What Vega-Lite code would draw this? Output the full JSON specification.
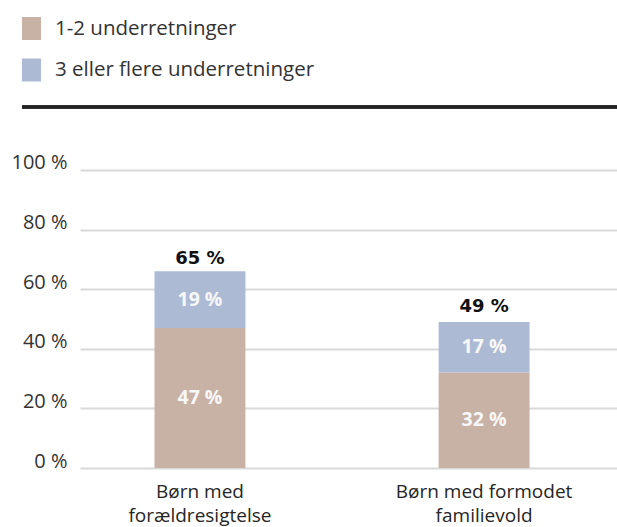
{
  "$schema": "https://vega.github.io/schema/vega-lite/v6.json",
  "autosize": {"type": "none"},
  "padding": {"left": 80, "top": 107, "right": 0, "bottom": 59},
  "width": 537,
  "height": 361,
  "background": "white",
  "config": {
    "view": {"stroke": null},
    "font": "Open Sans"
  },
  "data": {
    "values": [
      {"gruppe": "Børn med forældresigtelse", "type": "1-2 underretninger", "andel": 47, "total": 65, "ord": 1},
      {"gruppe": "Børn med forældresigtelse", "type": "3 eller flere underretninger", "andel": 19, "total": 65, "ord": 2},
      {"gruppe": "Børn med formodet familievold", "type": "1-2 underretninger", "andel": 32, "total": 49, "ord": 1},
      {"gruppe": "Børn med formodet familievold", "type": "3 eller flere underretninger", "andel": 17, "total": 49, "ord": 2}
    ]
  },
  "resolve": {"scale": {"x": "independent"}},
  "layer": [
    {
      "encoding": {
        "x": {
          "field": "gruppe", "type": "nominal", "sort": null,
          "scale": {"paddingInner": 0.68, "paddingOuter": 0.285, "align": 0.46},
          "axis": {
            "title": null, "domain": false, "ticks": false, "labelAngle": 0,
            "labelFontSize": 19, "labelColor": "#262626", "labelPadding": 14,
            "labelLineHeight": 24, "labelFont": "Open Sans", "labelLimit": 400,
            "labelExpr": "datum.label == 'Børn med forældresigtelse' ? ['Børn med', 'forældresigtelse'] : ['Børn med formodet', 'familievold']"
          }
        }
      },
      "layer": [
        {
          "mark": {"type": "bar"},
          "encoding": {
            "y": {
              "field": "andel", "type": "quantitative", "stack": "zero",
              "scale": {"domain": [0, 121.1], "nice": false},
              "axis": {
                "title": null, "values": [0, 20, 40, 60, 80, 100],
                "labelExpr": "datum.value + ' %'", "domain": false, "ticks": false,
                "labelFontSize": 20, "labelColor": "#333333", "labelPadding": 13,
                "labelOffset": -7, "labelFont": "Open Sans",
                "gridColor": "#d9d9d9", "gridWidth": 2
              }
            },
            "color": {
              "field": "type", "type": "nominal",
              "scale": {"domain": ["1-2 underretninger", "3 eller flere underretninger"], "range": ["#c8b2a6", "#adbad4"]},
              "legend": {
                "title": null, "orient": "none", "legendX": -60, "legendY": -90,
                "symbolType": "M-0.83,-1L0.83,-1L0.83,1L-0.83,1Z", "symbolSize": 529,
                "symbolStrokeWidth": 0, "symbolOpacity": 1,
                "labelFontSize": 20.5, "labelColor": "#333333", "labelFont": "Open Sans",
                "labelOffset": 12, "rowPadding": 18.5, "padding": 0, "labelLimit": 500
              }
            },
            "order": {"field": "ord"}
          }
        },
        {
          "transform": [{"calculate": "datum.andel + ' %'", "as": "lbl"}],
          "mark": {"type": "text", "color": "#f7f7f7", "fontSize": 19.5, "fontWeight": "bold", "font": "Open Sans"},
          "encoding": {
            "y": {"field": "andel", "type": "quantitative", "stack": "zero", "bandPosition": 0.5},
            "text": {"field": "lbl", "type": "nominal"},
            "detail": {"field": "type"},
            "order": {"field": "ord"}
          }
        },
        {
          "transform": [{"filter": "datum.ord == 2"}, {"calculate": "datum.total + ' %'", "as": "tl"}],
          "mark": {"type": "text", "color": "#111111", "fontSize": 18, "fontWeight": "bold", "font": "DejaVu Sans", "baseline": "bottom", "dy": -6},
          "encoding": {
            "y": {"field": "total", "type": "quantitative"},
            "text": {"field": "tl", "type": "nominal"}
          }
        }
      ]
    },
    {
      "mark": {"type": "rule", "color": "#222222", "strokeWidth": 3},
      "encoding": {
        "x": {"datum": -0.108, "type": "quantitative", "scale": {"domain": [0, 1]}, "axis": null},
        "x2": {"datum": 1},
        "y": {"datum": 121.1, "type": "quantitative"}
      }
    }
  ]
}
